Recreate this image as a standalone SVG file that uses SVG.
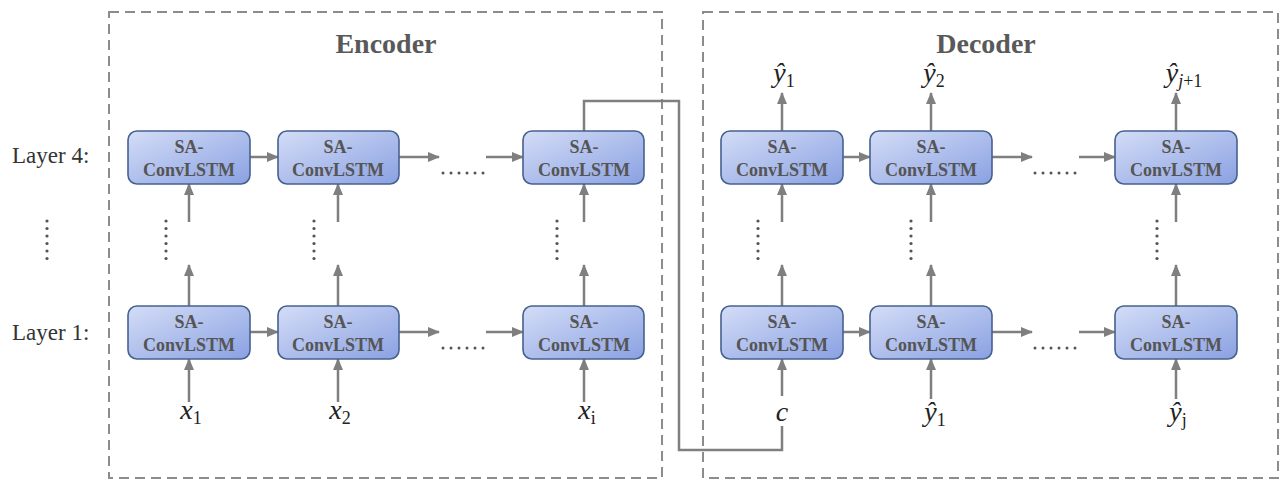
<svg xmlns="http://www.w3.org/2000/svg" width="1280" height="481" viewBox="0 0 1280 481">
<defs>
<linearGradient id="g" x1="0" y1="0" x2="1" y2="1">
<stop offset="0" stop-color="#d4ddf7"/>
<stop offset="1" stop-color="#8aa1e2"/>
</linearGradient>
<marker id="ah" markerWidth="12" markerHeight="10" refX="11" refY="5" orient="auto" markerUnits="userSpaceOnUse">
<path d="M0,0 L12,5 L0,10 Z" fill="#7f7f7f"/>
</marker>
<style>
.frame{fill:none;stroke:#8c8c8c;stroke-width:2;stroke-dasharray:10 6}
.box{fill:url(#g);stroke:#45618f;stroke-width:1.6}
.bt{font-family:"Liberation Serif",serif;font-weight:bold;font-size:18px;fill:#555;text-anchor:middle}
.title{font-family:"Liberation Serif",serif;font-weight:bold;font-size:28px;fill:#595959;text-anchor:middle}
.lay{font-family:"Liberation Serif",serif;font-size:23px;fill:#333}
.m{font-family:"Liberation Serif",serif;font-size:28px;fill:#222;text-anchor:middle}
.m .i{font-style:italic}
.m .s{font-size:18px}
.ar{stroke:#7f7f7f;stroke-width:2.5;fill:none;marker-end:url(#ah)}
.ln{stroke:#7f7f7f;stroke-width:2.5;fill:none}
.dot{fill:#555}
</style>
</defs>
<rect width="1280" height="481" fill="#fff"/>

<g id="encoder-frame">
<rect class="frame" x="109" y="12" width="553" height="466"/>
<text class="title" x="386" y="53">Encoder</text>
</g>
<g id="decoder-frame">
<rect class="frame" x="703" y="12" width="575" height="466"/>
<text class="title" x="986" y="53">Decoder</text>
</g>

<g id="layer-labels">
<text class="lay" x="12" y="163">Layer 4:</text>
<text class="lay" x="12" y="340">Layer 1:</text>
<g class="dot"><circle cx="47" cy="221" r="1.6"/><circle cx="47" cy="228.5" r="1.6"/><circle cx="47" cy="236" r="1.6"/><circle cx="47" cy="243.5" r="1.6"/><circle cx="47" cy="251" r="1.6"/><circle cx="47" cy="258.5" r="1.6"/></g>
</g>

<g id="connectors">
<line class="ar" x1="250" y1="157" x2="278" y2="157"/>
<line class="ar" x1="399" y1="157" x2="439" y2="157"/>
<line class="ar" x1="486" y1="157" x2="523" y2="157"/>
<line class="ar" x1="250" y1="332" x2="278" y2="332"/>
<line class="ar" x1="399" y1="332" x2="439" y2="332"/>
<line class="ar" x1="486" y1="332" x2="523" y2="332"/>
<line class="ar" x1="843" y1="157" x2="870" y2="157"/>
<line class="ar" x1="992" y1="157" x2="1032" y2="157"/>
<line class="ar" x1="1079" y1="157" x2="1115" y2="157"/>
<line class="ar" x1="843" y1="332" x2="870" y2="332"/>
<line class="ar" x1="992" y1="332" x2="1032" y2="332"/>
<line class="ar" x1="1079" y1="332" x2="1115" y2="332"/>
<line class="ar" x1="189" y1="306" x2="189" y2="265"/>
<line class="ar" x1="189" y1="222" x2="189" y2="184"/>
<line class="ar" x1="338" y1="306" x2="338" y2="265"/>
<line class="ar" x1="338" y1="222" x2="338" y2="184"/>
<line class="ar" x1="584" y1="306" x2="584" y2="265"/>
<line class="ar" x1="584" y1="222" x2="584" y2="184"/>
<line class="ar" x1="782" y1="306" x2="782" y2="265"/>
<line class="ar" x1="782" y1="222" x2="782" y2="184"/>
<line class="ar" x1="931" y1="306" x2="931" y2="265"/>
<line class="ar" x1="931" y1="222" x2="931" y2="184"/>
<line class="ar" x1="1176" y1="306" x2="1176" y2="265"/>
<line class="ar" x1="1176" y1="222" x2="1176" y2="184"/>
<line class="ar" x1="189" y1="402" x2="189" y2="359"/>
<line class="ar" x1="338" y1="402" x2="338" y2="359"/>
<line class="ar" x1="584" y1="402" x2="584" y2="359"/>
<line class="ar" x1="782" y1="396" x2="782" y2="359"/>
<line class="ar" x1="931" y1="399" x2="931" y2="359"/>
<line class="ar" x1="1176" y1="399" x2="1176" y2="359"/>
<line class="ar" x1="782" y1="131" x2="782" y2="93"/>
<line class="ar" x1="931" y1="131" x2="931" y2="93"/>
<line class="ar" x1="1176" y1="131" x2="1176" y2="93"/>
<path class="ln" d="M584,131 V101 H679 V450 H782 V426"/>
</g>

<g id="ellipses" class="dot">
<g><circle cx="443" cy="173" r="1.5"/><circle cx="451" cy="173" r="1.5"/><circle cx="459" cy="173" r="1.5"/><circle cx="467" cy="173" r="1.5"/><circle cx="475" cy="173" r="1.5"/><circle cx="483" cy="173" r="1.5"/></g>
<g><circle cx="443" cy="348" r="1.5"/><circle cx="451" cy="348" r="1.5"/><circle cx="459" cy="348" r="1.5"/><circle cx="467" cy="348" r="1.5"/><circle cx="475" cy="348" r="1.5"/><circle cx="483" cy="348" r="1.5"/></g>
<g><circle cx="1035" cy="173" r="1.5"/><circle cx="1043" cy="173" r="1.5"/><circle cx="1051" cy="173" r="1.5"/><circle cx="1059" cy="173" r="1.5"/><circle cx="1067" cy="173" r="1.5"/><circle cx="1075" cy="173" r="1.5"/></g>
<g><circle cx="1035" cy="348" r="1.5"/><circle cx="1043" cy="348" r="1.5"/><circle cx="1051" cy="348" r="1.5"/><circle cx="1059" cy="348" r="1.5"/><circle cx="1067" cy="348" r="1.5"/><circle cx="1075" cy="348" r="1.5"/></g>
<g><circle cx="166" cy="221" r="1.6"/><circle cx="166" cy="228.5" r="1.6"/><circle cx="166" cy="236" r="1.6"/><circle cx="166" cy="243.5" r="1.6"/><circle cx="166" cy="251" r="1.6"/><circle cx="166" cy="258.5" r="1.6"/></g>
<g><circle cx="314" cy="221" r="1.6"/><circle cx="314" cy="228.5" r="1.6"/><circle cx="314" cy="236" r="1.6"/><circle cx="314" cy="243.5" r="1.6"/><circle cx="314" cy="251" r="1.6"/><circle cx="314" cy="258.5" r="1.6"/></g>
<g><circle cx="557" cy="221" r="1.6"/><circle cx="557" cy="228.5" r="1.6"/><circle cx="557" cy="236" r="1.6"/><circle cx="557" cy="243.5" r="1.6"/><circle cx="557" cy="251" r="1.6"/><circle cx="557" cy="258.5" r="1.6"/></g>
<g><circle cx="758" cy="221" r="1.6"/><circle cx="758" cy="228.5" r="1.6"/><circle cx="758" cy="236" r="1.6"/><circle cx="758" cy="243.5" r="1.6"/><circle cx="758" cy="251" r="1.6"/><circle cx="758" cy="258.5" r="1.6"/></g>
<g><circle cx="911" cy="221" r="1.6"/><circle cx="911" cy="228.5" r="1.6"/><circle cx="911" cy="236" r="1.6"/><circle cx="911" cy="243.5" r="1.6"/><circle cx="911" cy="251" r="1.6"/><circle cx="911" cy="258.5" r="1.6"/></g>
<g><circle cx="1157" cy="221" r="1.6"/><circle cx="1157" cy="228.5" r="1.6"/><circle cx="1157" cy="236" r="1.6"/><circle cx="1157" cy="243.5" r="1.6"/><circle cx="1157" cy="251" r="1.6"/><circle cx="1157" cy="258.5" r="1.6"/></g>
</g>

<g id="enc-l4-1"><rect class="box" x="128" y="131" width="122" height="53" rx="9"/><text class="bt" x="189" y="153">SA-</text><text class="bt" x="189" y="176">ConvLSTM</text></g>
<g id="enc-l4-2"><rect class="box" x="278" y="131" width="121" height="53" rx="9"/><text class="bt" x="338" y="153">SA-</text><text class="bt" x="338" y="176">ConvLSTM</text></g>
<g id="enc-l4-3"><rect class="box" x="523" y="131" width="121" height="53" rx="9"/><text class="bt" x="584" y="153">SA-</text><text class="bt" x="584" y="176">ConvLSTM</text></g>
<g id="enc-l1-1"><rect class="box" x="128" y="306" width="122" height="53" rx="9"/><text class="bt" x="189" y="328">SA-</text><text class="bt" x="189" y="351">ConvLSTM</text></g>
<g id="enc-l1-2"><rect class="box" x="278" y="306" width="121" height="53" rx="9"/><text class="bt" x="338" y="328">SA-</text><text class="bt" x="338" y="351">ConvLSTM</text></g>
<g id="enc-l1-3"><rect class="box" x="523" y="306" width="121" height="53" rx="9"/><text class="bt" x="584" y="328">SA-</text><text class="bt" x="584" y="351">ConvLSTM</text></g>
<g id="dec-l4-1"><rect class="box" x="721" y="131" width="122" height="53" rx="9"/><text class="bt" x="782" y="153">SA-</text><text class="bt" x="782" y="176">ConvLSTM</text></g>
<g id="dec-l4-2"><rect class="box" x="870" y="131" width="122" height="53" rx="9"/><text class="bt" x="931" y="153">SA-</text><text class="bt" x="931" y="176">ConvLSTM</text></g>
<g id="dec-l4-3"><rect class="box" x="1115" y="131" width="122" height="53" rx="9"/><text class="bt" x="1176" y="153">SA-</text><text class="bt" x="1176" y="176">ConvLSTM</text></g>
<g id="dec-l1-1"><rect class="box" x="721" y="306" width="122" height="53" rx="9"/><text class="bt" x="782" y="328">SA-</text><text class="bt" x="782" y="351">ConvLSTM</text></g>
<g id="dec-l1-2"><rect class="box" x="870" y="306" width="122" height="53" rx="9"/><text class="bt" x="931" y="328">SA-</text><text class="bt" x="931" y="351">ConvLSTM</text></g>
<g id="dec-l1-3"><rect class="box" x="1115" y="306" width="122" height="53" rx="9"/><text class="bt" x="1176" y="328">SA-</text><text class="bt" x="1176" y="351">ConvLSTM</text></g>

<g id="labels">
<text class="m" x="191" y="419"><tspan class="i">x</tspan><tspan class="s" dy="5">1</tspan></text>
<text class="m" x="340" y="419"><tspan class="i">x</tspan><tspan class="s" dy="5">2</tspan></text>
<text class="m" x="587" y="419"><tspan class="i">x</tspan><tspan class="s" dy="5">i</tspan></text>
<text class="m" x="782" y="421"><tspan class="i">c</tspan></text>
<text class="m" x="935" y="421"><tspan class="i">ŷ</tspan><tspan class="s" dy="5">1</tspan></text>
<text class="m" x="1178" y="421"><tspan class="i">ŷ</tspan><tspan class="s" dy="5">j</tspan></text>
<text class="m" x="784" y="82"><tspan class="i">ŷ</tspan><tspan class="s" dy="5">1</tspan></text>
<text class="m" x="934" y="82"><tspan class="i">ŷ</tspan><tspan class="s" dy="5">2</tspan></text>
<text class="m" x="1184" y="82"><tspan class="i">ŷ</tspan><tspan class="s" dy="5"><tspan font-style="italic">j</tspan>+1</tspan></text>
</g>
</svg>
